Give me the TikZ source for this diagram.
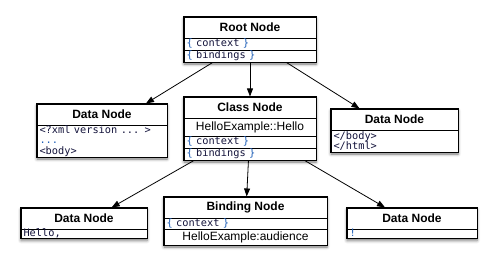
\documentclass[tikz,border=0pt]{standalone}
\usepackage{fontspec}
\setmainfont{Liberation Sans}
\setsansfont{Liberation Sans}
\setmonofont{DejaVu Sans Mono}
\usetikzlibrary{arrows.meta}
\usetikzlibrary{backgrounds}
\usetikzlibrary{fit}
\usetikzlibrary{positioning}
\usetikzlibrary{shadows.blur}
\definecolor{tplink}{HTML}{000000}
\definecolor{tplcodeink}{HTML}{14143C}
\definecolor{tplbrace}{HTML}{1E5FB8}
\newcommand{\tplbr}[1]{\textcolor{tplbrace}{#1}}
\tikzset{
  tplrow/.style={
    draw=tplink, fill=white, line width=0.7pt, inner sep=0pt, outer sep=0pt},
  tpltitle/.style={
    tplrow, minimum width=#1, minimum height=21pt,
    font=\fontsize{12}{14}\selectfont\bfseries},
  tplname/.style={
    tplrow, minimum width=#1, minimum height=18pt,
    font=\fontsize{12}{14}\selectfont},
  tplcode/.style={
    tplrow, text width=#1, inner xsep=2.5pt, align=left, text=tplcodeink,
    font=\fontsize{10.3}{10.6}\selectfont\ttfamily,
    text height=7.2pt, text depth=2.2pt, minimum height=12pt},
  tpllines/.style={
    tplrow, text width=#1, inner xsep=2.5pt, align=left, text=tplcodeink,
    font=\fontsize{10.3}{10.6}\selectfont\ttfamily},
  tplbox/.style={
    draw=tplink, fill=white, line width=1.1pt, inner sep=0pt,
    blur shadow={shadow xshift=0pt, shadow yshift=-2pt,
      shadow blur radius=3pt, shadow opacity=55}},
  tplarrow/.style={-{Triangle[length=8pt, width=6pt]}, draw=tplink,
    line width=0.8pt},
}

\begin{document}
\begin{tikzpicture}[x=1pt, y=1pt]
\useasboundingbox (0, 0) rectangle (497, -270);

% ------------------------------------------------------------- root
\node[tpltitle=132pt] (roottitle) at (250, -27.5) {Root Node};
\node[tplcode=127pt, below=0pt of roottitle] (rootctx)
  {\tplbr{\{} context \tplbr{\}}};
\node[tplcode=127pt, below=0pt of rootctx] (rootbind)
  {\tplbr{\{} bindings \tplbr{\}}};

% ------------------------------------------------------------ class
\node[tpltitle=132pt] (classtitle) at (250, -107.5) {Class Node};
\node[tplname=132pt, below=0pt of classtitle] (classname)
  {HelloExample::Hello};
\node[tplcode=127pt, below=0pt of classname] (classctx)
  {\tplbr{\{} context \tplbr{\}}};
\node[tplcode=127pt, below=0pt of classctx] (classbind)
  {\tplbr{\{} bindings \tplbr{\}}};

% ------------------------------------------------------- data nodes
\node[tpltitle=130pt] (headtitle) at (102, -114.5) {Data Node};
\node[tpllines=125pt, minimum height=32pt, below=0pt of headtitle]
  (headtext) {<?xml version ... >\\\tplbr{...}\\<body>};

\node[tpltitle=127pt] (tailtitle) at (394.5, -119.5) {Data Node};
\node[tpllines=122pt, minimum height=22pt, below=0pt of tailtitle]
  (tailtext) {</body>\\</html>};

\node[tpltitle=126pt] (hellotitle) at (84, -218.5) {Data Node};
\node[tplcode=121pt, minimum height=9.5pt, below=0pt of hellotitle]
  (hellotext) {Hello,};

\node[tpltitle=130pt] (banngtitle) at (412, -218.5) {Data Node};
\node[tplcode=125pt, minimum height=9.5pt, below=0pt of banngtitle]
  (banngtext) {\tplbr{!}};

% ---------------------------------------------------------- binding
\node[tpltitle=163pt] (bindtitle) at (245.5, -207.5) {Binding Node};
\node[tplcode=158pt, minimum height=11pt, below=0pt of bindtitle]
  (bindctx) {\tplbr{\{} context \tplbr{\}}};
\node[tplname=163pt, minimum height=16pt, below=0pt of bindctx]
  (bindname) {HelloExample:audience};

% Outlines and shadows go under the rows.
\begin{scope}[on background layer]
  \node[tplbox, fit=(roottitle) (rootbind)] (root) {};
  \node[tplbox, fit=(classtitle) (classbind)] (class) {};
  \node[tplbox, fit=(headtitle) (headtext)] (head) {};
  \node[tplbox, fit=(tailtitle) (tailtext)] (tail) {};
  \node[tplbox, fit=(hellotitle) (hellotext)] (hello) {};
  \node[tplbox, fit=(banngtitle) (banngtext)] (banng) {};
  \node[tplbox, fit=(bindtitle) (bindname)] (binding) {};
\end{scope}

% Edges.
\draw[tplarrow] (root) -- (head);
\draw[tplarrow] (root) -- (class);
\draw[tplarrow] (root) -- (tail);
\draw[tplarrow] (class) -- (hello);
\draw[tplarrow] (class) -- (binding);
\draw[tplarrow] (class) -- (banng);

\end{tikzpicture}
\end{document}
